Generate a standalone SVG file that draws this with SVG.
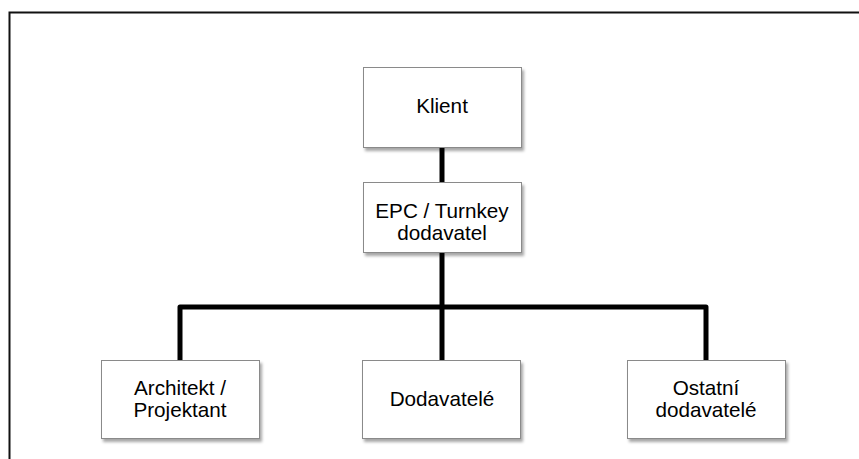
<svg xmlns="http://www.w3.org/2000/svg" width="859" height="459" viewBox="0 0 859 459">
  <defs>
    <filter id="shadow" x="-10%" y="-10%" width="125%" height="130%">
      <feDropShadow dx="2" dy="3" stdDeviation="1.5" flood-color="#000" flood-opacity="0.35"/>
    </filter>
  </defs>
  <style>
    .box { fill: #fff; stroke: #8a8a8a; stroke-width: 1; filter: url(#shadow); }
    .label { font-family: "Liberation Sans", Arial, sans-serif; font-size: 20.7px; fill: #000; text-anchor: middle; }
    .conn { fill: none; stroke: #000; stroke-width: 5; stroke-linejoin: round; }
    .frame { fill: none; stroke: #111; stroke-width: 2; }
  </style>

  <rect width="859" height="459" fill="#fff"/>
  <!-- outer frame -->
  <path class="frame" d="M9.5 470 V12.5 H870"/>

  <!-- connectors -->
  <g id="connectors">
    <line class="conn" x1="442" y1="147" x2="442" y2="182"/>
    <line class="conn" x1="442" y1="252" x2="442" y2="360"/>
    <path class="conn" d="M180 360 V307 H706 V360"/>
  </g>

  <g id="klient">
    <rect class="box" x="363.5" y="67.5" width="158" height="80"/>
    <text class="label" x="442" y="112.5">Klient</text>
  </g>

  <g id="epc">
    <rect class="box" x="363.5" y="182.5" width="158" height="70"/>
    <text class="label" x="442" y="217.5">EPC / Turnkey</text>
    <text class="label" x="442" y="239.5">dodavatel</text>
  </g>

  <g id="architekt">
    <rect class="box" x="101.5" y="360.5" width="158" height="78"/>
    <text class="label" x="180" y="395">Architekt /</text>
    <text class="label" x="180" y="416.5">Projektant</text>
  </g>

  <g id="dodavatele">
    <rect class="box" x="362.5" y="360.5" width="158" height="78"/>
    <text class="label" x="442" y="406">Dodavatelé</text>
  </g>

  <g id="ostatni">
    <rect class="box" x="627.5" y="360.5" width="158" height="78"/>
    <text class="label" x="706" y="395">Ostatní</text>
    <text class="label" x="706" y="416.5">dodavatelé</text>
  </g>
</svg>
